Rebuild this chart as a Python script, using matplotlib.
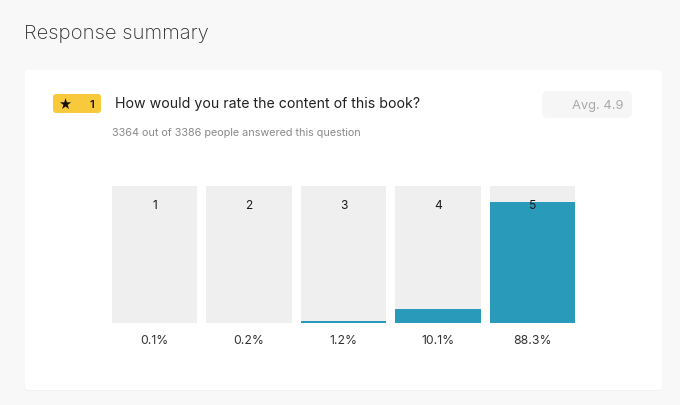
import matplotlib.pyplot as plt
from matplotlib.patches import FancyBboxPatch

# chart values
ratings = ["1", "2", "3", "4", "5"]
shares = [0.1, 0.2, 1.2, 10.1, 88.3]
pct_labels = ["0.1%", "0.2%", "1.2%", "10.1%", "88.3%"]
answered = 3364
total = 3386
avg_rating = 4.9
question = "How would you rate the content of this book?"

W, H = 680, 406
BLUE = "#2a9abb"
TRACK = "#efefef"

plt.rcParams["font.family"] = ["Inter", "DejaVu Sans"]

fig = plt.figure(figsize=(W / 100, H / 100), dpi=100)
fig.patch.set_facecolor("#f8f8f8")

# page layer in pixel coords (y down)
page = fig.add_axes([0, 0, 1, 1])
page.set_xlim(0, W)
page.set_ylim(H, 0)
page.axis("off")

page.add_patch(FancyBboxPatch((25, 71.5), 637, 320, boxstyle="round,pad=0,rounding_size=3",
                              fc="#ececec", ec="none", zorder=0))
page.add_patch(FancyBboxPatch((25, 71), 637, 320, boxstyle="round,pad=0,rounding_size=3",
                              fc="white", ec="none", zorder=1))

page.text(24, 34, "Response summary", fontsize=14.6, fontweight="light", color="#2b2b2b",
          va="center", ha="left", zorder=3)

# badge
page.add_patch(FancyBboxPatch((53, 95), 48, 19, boxstyle="round,pad=0,rounding_size=3",
                              fc="#f8c93a", ec="none", zorder=2))
page.text(65, 104.5, "\u2605", fontsize=10.5, color="#111111", ha="center", va="center",
          family=["DejaVu Sans"], zorder=3)
page.text(92, 104.5, "1", fontsize=8, fontweight="semibold", color="#111111", ha="center",
          va="center", zorder=3)

page.text(115, 104, question, fontsize=10.2, color="#222222", ha="left", va="center", zorder=3)
page.text(112, 133, f"{answered} out of {total} people answered this question", fontsize=7.8,
          color="#8a8a8a", ha="left", va="center", zorder=3)

page.add_patch(FancyBboxPatch((542, 92), 90, 27, boxstyle="round,pad=0,rounding_size=6",
                              fc="#f6f6f6", ec="none", zorder=2))
page.text(624, 105.5, f"Avg. {avg_rating}", fontsize=9.3, color="#a9a9a9", ha="right",
          va="center", zorder=3)

# bars
left, right, top, bottom = 112, 575, 187, 324
ax = fig.add_axes([left / W, 1 - bottom / H, (right - left) / W, (bottom - top) / H])
ax.set_zorder(2)
ax.patch.set_alpha(0)
x = list(range(len(ratings)))
ax.bar(x, [100] * len(x), width=0.9, color=TRACK, linewidth=0)
ax.bar(x, shares, width=0.9, color=BLUE, linewidth=0)
ax.set_xlim(-0.45, len(x) - 0.55)
ax.set_ylim(0, 100)
ax.axis("off")

for i, (r, p) in enumerate(zip(ratings, pct_labels)):
    ax.text(i, 86, r, fontsize=8.6, color="#1a1a1a", ha="center", va="center")
    ax.text(i, -12.5, p, fontsize=8.8, color="#333333", ha="center", va="center", clip_on=False)

fig.savefig("out.png", dpi=100, facecolor=fig.get_facecolor())
